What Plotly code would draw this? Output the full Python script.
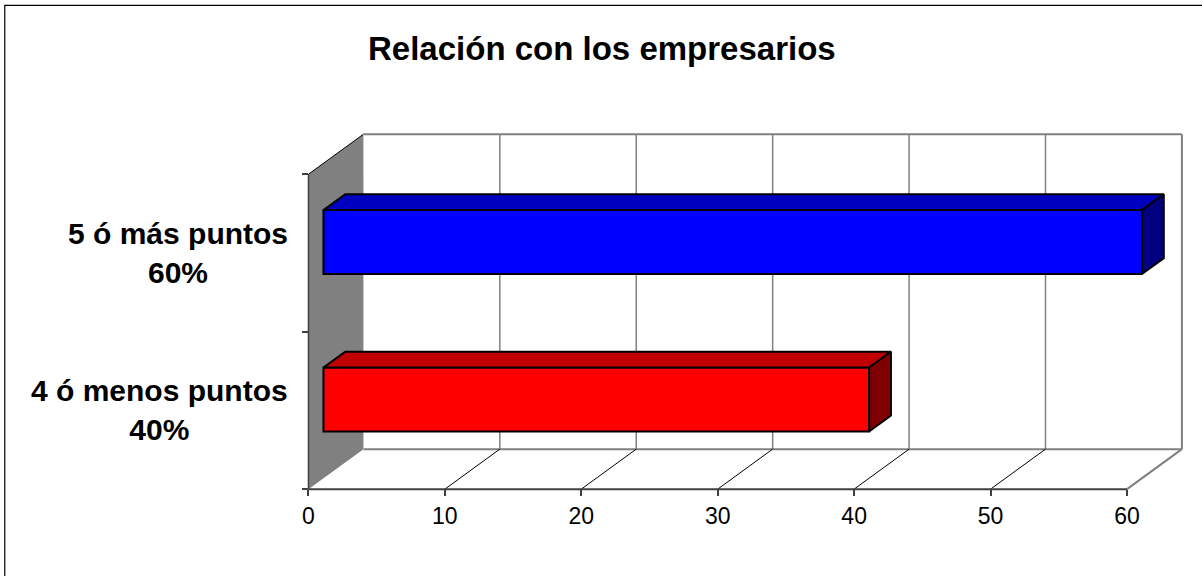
import plotly.graph_objects as go

# ---- data ----
categories = ["4 ó menos puntos", "5 ó más puntos"]
percent_labels = ["40%", "60%"]
values = [40, 60]
front_colors = ["#FF0000", "#0000FF"]
top_colors = ["#C00000", "#0000C0"]
side_colors = ["#800000", "#000080"]
x_ticks = [0, 10, 20, 30, 40, 50, 60]
x_max = 60
title = "Relación con los empresarios"

# ---- geometry ----
W, H = 1202, 576
PXX = 13.656   # pixels per x unit
PXY = 157.5    # pixels per category band
X0PIX = 308    # pixel of x = 0 (front)
Y0PIX = 489    # pixel of y = -0.5 (front floor)
XR = [-0.4, 64.4]
YR = [-0.55, 1.8]
ml = X0PIX + XR[0] * PXX
mr = W - (X0PIX + XR[1] * PXX)
bottom_pix = Y0PIX - (YR[0] + 0.5) * PXY
top_pix = Y0PIX - (YR[1] + 0.5) * PXY
mb = H - bottom_pix
mt = top_pix
pw = W - ml - mr
ph = H - mt - mb


def pxx(p):
    return (p - ml) / pw


def pxy(p):
    return (H - mb - p) / ph


DX = 55 / PXX      # depth offset in x units
DY = 40 / PXY      # depth offset in y units
F0, F1 = 0.273, 0.67
BAR_H = 0.406
EDGE_W = 2

FONT = "Arial, Liberation Sans, sans-serif"
GRAY = "#808080"

fig = go.Figure()

# bars (front face)
for i, v in enumerate(values):
    yc = i + F0 * DY
    fig.add_trace(go.Bar(
        x=[v], y=[yc], base=[F0 * DX], orientation="h", width=BAR_H,
        marker=dict(color=front_colors[i], line=dict(color="black", width=EDGE_W)),
        hoverinfo="skip", showlegend=False))

# bars (top + side faces)
for i, v in enumerate(values):
    yc = i + F0 * DY
    yt, yb = yc + BAR_H / 2, yc - BAR_H / 2
    x0 = F0 * DX
    ddx, ddy = (F1 - F0) * DX, (F1 - F0) * DY
    fig.add_trace(go.Scatter(
        x=[x0, x0 + ddx, x0 + v + ddx, x0 + v, x0],
        y=[yt, yt + ddy, yt + ddy, yt, yt],
        mode="lines", fill="toself", fillcolor=top_colors[i],
        line=dict(color="black", width=EDGE_W), hoverinfo="skip", showlegend=False))
    fig.add_trace(go.Scatter(
        x=[x0 + v, x0 + v + ddx, x0 + v + ddx, x0 + v, x0 + v],
        y=[yt, yt + ddy, yb + ddy, yb, yt],
        mode="lines", fill="toself", fillcolor=side_colors[i],
        line=dict(color="black", width=EDGE_W), hoverinfo="skip", showlegend=False))

shapes = []
ytop = len(categories) - 0.5
ybot = -0.5
# side wall
shapes.append(dict(type="path", xref="x", yref="y", layer="below",
                   path=f"M 0,{ybot} L 0,{ytop} L {DX},{ytop + DY} L {DX},{ybot + DY} Z",
                   fillcolor=GRAY, line=dict(width=0)))
shapes.append(dict(type="line", xref="x", yref="y", layer="below", x0=0, x1=0, y0=ybot, y1=ytop,
                   line=dict(color="#404040", width=1.5)))
shapes.append(dict(type="line", xref="x", yref="y", layer="below", x0=0, x1=DX, y0=ytop, y1=ytop + DY,
                   line=dict(color="black", width=1)))
# back wall edges
shapes.append(dict(type="line", xref="x", yref="y", layer="below", x0=DX, x1=x_max + DX,
                   y0=ytop + DY, y1=ytop + DY, line=dict(color=GRAY, width=2)))
shapes.append(dict(type="line", xref="x", yref="y", layer="below", x0=x_max + DX, x1=x_max + DX,
                   y0=ybot + DY, y1=ytop + DY, line=dict(color=GRAY, width=2)))
shapes.append(dict(type="line", xref="x", yref="y", layer="below", x0=DX, x1=x_max + DX,
                   y0=ybot + DY, y1=ybot + DY, line=dict(color=GRAY, width=2)))
# gridlines and floor diagonals
for k in x_ticks[1:]:
    if k < x_max:
        shapes.append(dict(type="line", xref="x", yref="y", layer="below", x0=k + DX, x1=k + DX,
                           y0=ybot + DY, y1=ytop + DY, line=dict(color=GRAY, width=1.5)))
        shapes.append(dict(type="line", xref="x", yref="y", layer="below", x0=k, x1=k + DX,
                           y0=ybot, y1=ybot + DY, line=dict(color="black", width=1)))
    else:
        shapes.append(dict(type="line", xref="x", yref="y", layer="below", x0=k, x1=k + DX,
                           y0=ybot, y1=ybot + DY, line=dict(color=GRAY, width=2)))
# front floor line
shapes.append(dict(type="line", xref="x", yref="y", layer="below", x0=0, x1=x_max,
                   y0=ybot, y1=ybot, line=dict(color="#404040", width=2)))
# outer border
shapes.append(dict(type="rect", xref="paper", yref="paper", layer="above",
                   x0=pxx(4), x1=pxx(1215), y0=pxy(5), y1=pxy(590),
                   line=dict(color="black", width=1.2), fillcolor="rgba(0,0,0,0)"))

annotations = [dict(text=f"<b>{title}</b>", xref="paper", yref="paper",
                    x=pxx(602), y=pxy(48), xanchor="center", yanchor="middle",
                    showarrow=False, font=dict(family=FONT, size=33, color="black"))]
for i, (c, p) in enumerate(zip(categories, percent_labels)):
    annotations.append(dict(text=f"<b>{c}<br>{p}</b>", xref="paper", yref="y",
                            x=pxx(290), y=i, xanchor="right", yanchor="middle", align="center",
                            showarrow=False, font=dict(family=FONT, size=30, color="black")))

fig.update_layout(
    width=W, height=H,
    margin=dict(l=ml, r=mr, t=mt, b=mb, pad=0, autoexpand=False),
    paper_bgcolor="white", plot_bgcolor="white",
    barmode="overlay", showlegend=False, hovermode=False,
    shapes=shapes, annotations=annotations,
    xaxis=dict(range=XR, tickvals=x_ticks, ticktext=[str(t) for t in x_ticks],
               showgrid=False, zeroline=False, showline=False,
               ticks="outside", ticklen=6, tickwidth=1.5, tickcolor="#404040",
               tickfont=dict(family=FONT, size=23, color="black"),
               anchor="free", position=pxy(Y0PIX), fixedrange=True),
    yaxis=dict(range=YR, tickvals=[-0.5, 0.5, 1.5], showticklabels=False,
               showgrid=False, zeroline=False, showline=False,
               ticks="outside", ticklen=6, tickwidth=1.5, tickcolor="#404040",
               anchor="free", position=pxx(X0PIX), fixedrange=True),
)

fig.write_html("out.html", config={"displayModeBar": False},
               post_script="document.body.style.margin='0';document.body.style.overflow='hidden';")
